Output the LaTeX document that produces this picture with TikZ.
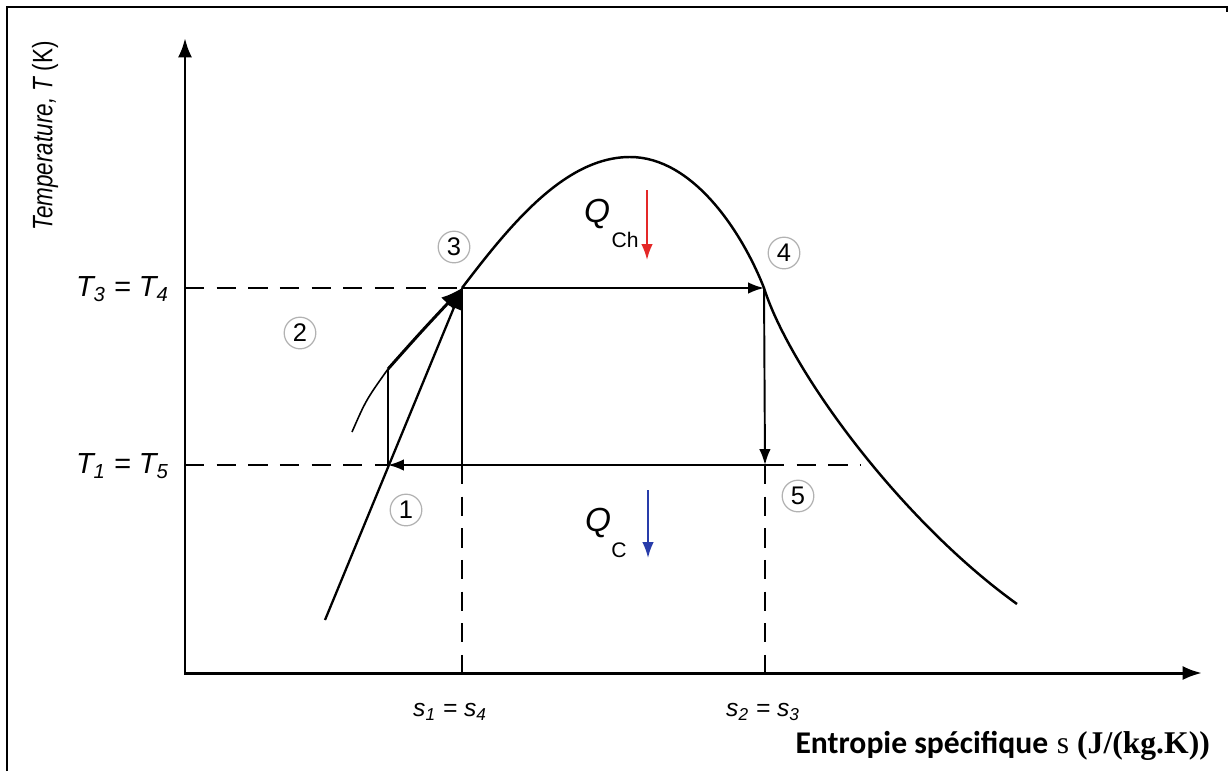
\documentclass[tikz,border=0pt]{standalone}
\usepackage{fontspec}
\setmainfont{Liberation Sans}
\newfontfamily\carl{Carlito}
\newfontfamily\serf{Liberation Serif}
\usetikzlibrary{arrows.meta}
\definecolor{qred}{RGB}{228,40,40}
\definecolor{qblue}{RGB}{40,60,170}
\begin{document}
\begin{tikzpicture}[x=0.02cm,y=-0.02cm,
  axisline/.style={line width=1.7pt},
  cyc/.style={line width=1.1pt},
  cycarrow/.style={cyc, -{Latex[length=9pt,width=6.5pt]}},
  dashline/.style={line width=1.1pt, dash pattern=on 11pt off 7pt},
  num/.style={circle, draw=gray!60, line width=0.7pt, minimum size=18pt, inner sep=0pt, font=\fontsize{14.5}{14.5}\selectfont},
  lbl/.style={font=\fontsize{14}{16}\selectfont\itshape},
  tlbl/.style={font=\fontsize{16.5}{18}\selectfont\itshape},
  qlbl/.style={font=\fontsize{19}{19}\selectfont\itshape},
  qsub/.style={font=\fontsize{12}{12}\selectfont},
]
\useasboundingbox (0,0) rectangle (1229,771);
\fill[white] (0,0) rectangle (1229,771);
% frame
\draw[line width=1.3pt] (7,771) -- (7,7) -- (1227,7) -- (1227,12);

% key coordinates
\coordinate (O) at (185,673);
\coordinate (Ytop) at (185,38);
\coordinate (Xend) at (1202,673);
\coordinate (T34) at (185,288);
\coordinate (T15) at (185,465);
\coordinate (p1) at (388,465);
\coordinate (p3) at (462,288);
\coordinate (pk) at (630,157);
\coordinate (p4) at (764,288);
\coordinate (p5) at (765,465);
\coordinate (e) at (1017,604);
\coordinate (m) at (462,465);
\coordinate (s14) at (462,673);
\coordinate (s23) at (765,673);
\coordinate (a) at (325,620);
\coordinate (b) at (352,432);
\coordinate (c) at (388,369);
\coordinate (d) at (860,465);

% axes
\draw[axisline, {Latex[length=11pt,width=8pt]}-{Latex[length=11pt,width=8pt]}] (Ytop) -- (O) -- (Xend);
\draw[line width=0.8pt] (s14) -- ++(0,-5) (s23) -- ++(0,-5);

% dashed guides
\draw[dashline] (T34) -- (p3);
\draw[dashline] (T15) -- (p1);
\draw[dashline] (p5) -- (d);
\draw[dashline] (m) -- (s14);
\draw[dashline] (p5) -- (s23);

% saturation dome
\draw[line width=0.9pt] (b) .. controls (366,400) .. (c);
\draw[line width=1.4pt] (p3) .. controls (510,225) and (565,157) .. (pk)
   .. controls (693,157) and (742,232) .. (p4)
   .. controls (790,370) and (900,520) .. (e);

% cycle
\draw[cyc] (c) -- (p1);
\draw[cyc] (m) -- (p3);
\draw[line width=1.3pt, -{Latex[length=12pt,width=9pt]}] (a) -- (p3);
\draw[line width=1.7pt, -{Latex[length=12pt,width=10pt]}] (c) .. controls (420,333) .. (p3);
\draw[cycarrow] (p3) -- (p4);
\draw[cycarrow] (p4) -- (p5);
\draw[cycarrow] (p5) -- (p1);

% axis labels
\node[font=\fontsize{16}{18}\selectfont\itshape, rotate=90, xscale=0.8] (ylab) at (45,136) {Temperature, T\upshape\ (K)};
\node[tlbl, anchor=east] (lT34) at (175,289) {T\textsubscript{3} = T\textsubscript{4}};
\node[tlbl, anchor=east] (lT15) at (175,466) {T\textsubscript{1} = T\textsubscript{5}};
\node[lbl] (ls14) at (450,712) {s\textsubscript{1} = s\textsubscript{4}};
\node[lbl] (ls23) at (763,712) {s\textsubscript{2} = s\textsubscript{3}};
\node[anchor=east, font=\fontsize{18}{20}\selectfont] (xlab) at (1216,746) {{\carl\bfseries Entropie spécifique} {\serf s \bfseries(J/(kg.K))}};

% state numbers
\node[num] (n1) at (406,510) {1};
\node[num] (n2) at (300,333) {2};
\node[num] (n3) at (454,247) {3};
\node[num] (n4) at (784,253) {4};
\node[num] (n5) at (798,496) {5};

% heat labels
\node[qlbl] (qch) at (597,214) {Q};
\node[qsub] (qchs) at (625,240) {Ch};
\coordinate (ra) at (647,190);
\coordinate (rb) at (647,260);
\draw[qred, line width=1.1pt, -{Latex[length=9pt,width=6.5pt]}] (ra) -- (rb);
\node[qlbl] (qc) at (598,523) {Q};
\node[qsub] (qcs) at (619,550) {C};
\coordinate (ba) at (648,490);
\coordinate (bb) at (648,558);
\draw[qblue, line width=1.1pt, -{Latex[length=9pt,width=6.5pt]}] (ba) -- (bb);
\end{tikzpicture}
\end{document}
